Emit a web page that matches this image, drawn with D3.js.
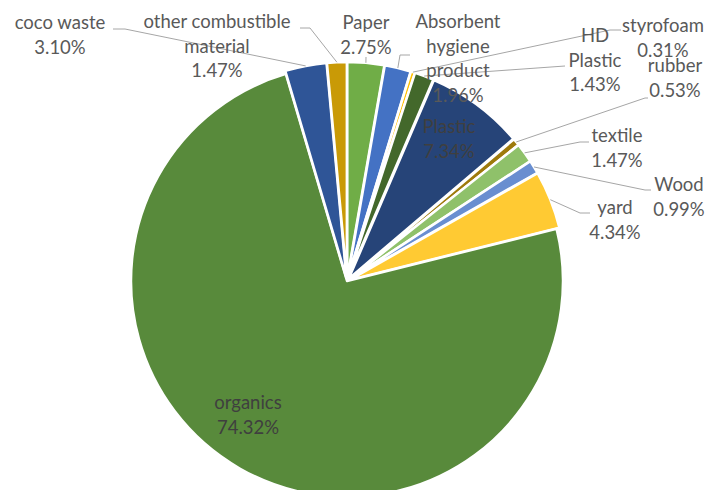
<!DOCTYPE html>
<html>
<head>
<meta charset="utf-8">
<script src="https://cdn.jsdelivr.net/npm/d3@7/dist/d3.min.js"></script>
<style>
  html, body { margin: 0; padding: 0; background: #ffffff; }
  svg { display: block; }
</style>
</head>
<body>
<svg id="chart" width="710" height="490"></svg>
<script>
// ---- data ----
const categories = ["Paper", "Absorbent hygiene product", "styrofoam", "HD Plastic", "Plastic",
  "rubber", "textile", "Wood", "yard", "organics", "coco waste", "other combustible material"];
const values = [2.75, 1.96, 0.31, 1.43, 7.34, 0.53, 1.47, 0.99, 4.34, 74.32, 3.10, 1.47];
const labelLines = [
  ["Paper", "2.75%"],
  ["Absorbent", "hygiene", "product", "1.96%"],
  ["styrofoam", "0.31%"],
  ["HD", "Plastic", "1.43%"],
  ["Plastic", "7.34%"],
  ["rubber", "0.53%"],
  ["textile", "1.47%"],
  ["Wood", "0.99%"],
  ["yard", "4.34%"],
  ["organics", "74.32%"],
  ["coco waste", "3.10%"],
  ["other combustible", "material", "1.47%"]
];

// ---- styling / layout (not data) ----
const colors = ["#70AD47", "#4472C4", "#FFC000", "#43682B", "#264478", "#9E7A0C",
  "#8FC16A", "#698ED0", "#FFCA33", "#588A3B", "#2F5597", "#C99A06"];
// label anchor: text center x, first baseline y, inside flag
const labelAnchor = [
  [366, 29, false], [458, 28, false], [663, 32, false], [595, 42, false],
  [449, 133, true], [675, 72, false], [617, 142, false], [679, 191, false],
  [615, 214, false], [248, 409, true], [60, 29, false], [217, 28, false]
];
// leader line waypoints after the slice edge point
const leaderPts = [
  [[366, 57]],
  [[400, 55], [410, 55]],
  [[610, 30], [621, 30]],
  [[565, 66]],
  null,
  [[645, 98], [648, 98]],
  [[580, 142], [589, 142]],
  [[645, 190], [651, 190]],
  [[580, 213], [590, 213]],
  null,
  [[125, 29], [113, 29]],
  [[310, 28], [300, 28]]
];

const cx = 347, cy = 281, R = 216, explode = 3;
const svg = d3.select("#chart");
const g = svg.append("g").attr("transform", `translate(${cx},${cy})`);

const pie = d3.pie().sort(null).value(d => d).startAngle(0).endAngle(2 * Math.PI);
const arcs = pie(values);
const arc = d3.arc().innerRadius(0).outerRadius(R);

arcs.forEach((a, i) => {
  const mid = (a.startAngle + a.endAngle) / 2;
  const off = categories[i] === "organics" ? 0 : explode;
  a.dx = off * Math.sin(mid);
  a.dy = -off * Math.cos(mid);
  a.mid = mid;
});

g.selectAll("path.slice")
  .data(arcs)
  .join("path")
  .attr("class", "slice")
  .attr("d", arc)
  .attr("transform", d => `translate(${d.dx},${d.dy})`)
  .attr("fill", (d, i) => colors[i])
  .attr("stroke", "#ffffff")
  .attr("stroke-width", 2.5)
  .attr("stroke-linejoin", "round");

// leader lines
const lineGen = d3.line();
arcs.forEach((a, i) => {
  if (!leaderPts[i]) return;
  const ex = cx + a.dx + R * Math.sin(a.mid);
  const ey = cy + a.dy - R * Math.cos(a.mid);
  const pts = [[ex, ey]].concat(leaderPts[i]);
  svg.append("path")
    .attr("d", lineGen(pts))
    .attr("fill", "none")
    .attr("stroke", "#A6A6A6")
    .attr("stroke-width", 1);
});

// labels
const lineH = 24.7;
labelLines.forEach((lines, i) => {
  const [x, y, inside] = labelAnchor[i];
  const t = svg.append("text")
    .attr("x", x)
    .attr("y", y)
    .attr("text-anchor", "middle")
    .attr("font-family", "Lato, 'Open Sans', sans-serif")
    .attr("font-size", 18.5)
    .attr("fill", inside ? "#3F3F3F" : "#595959");
  lines.forEach((s, k) => {
    t.append("tspan").attr("x", x).attr("dy", k === 0 ? 0 : lineH).text(s);
  });
});
</script>
</body>
</html>
